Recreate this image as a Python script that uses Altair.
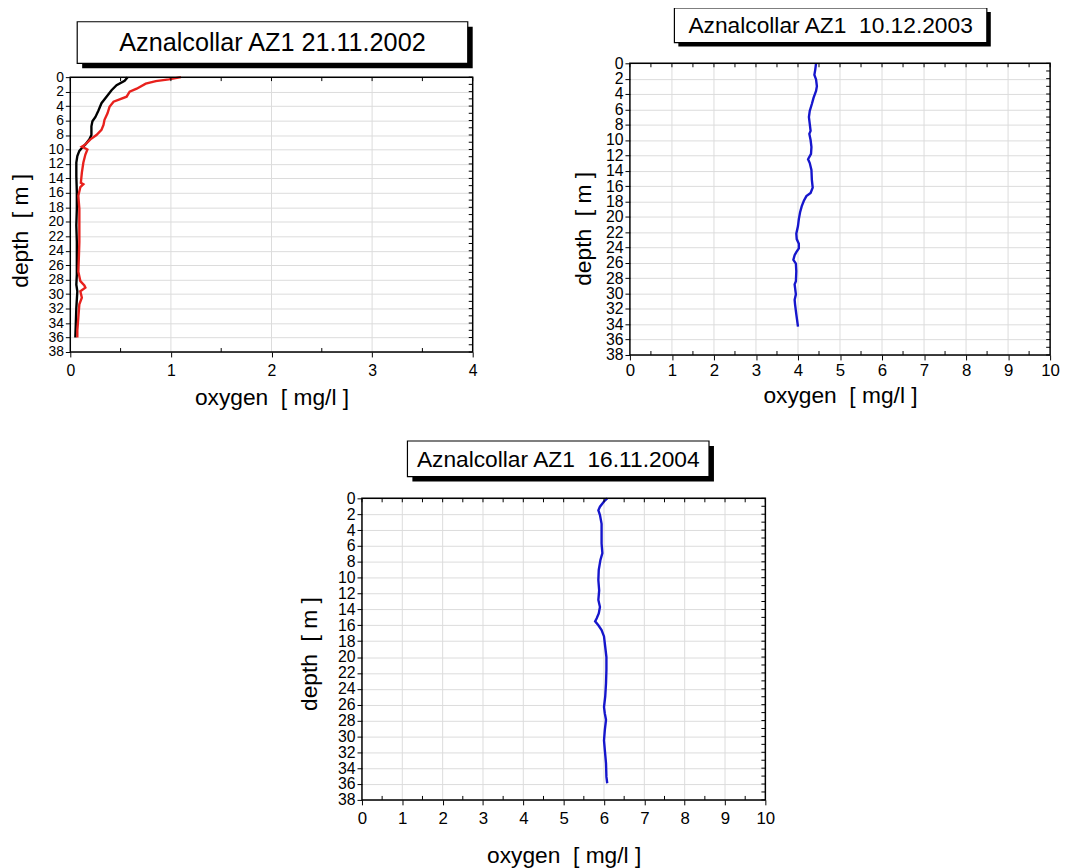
import altair as alt
import pandas as pd

FONT = "Liberation Sans"

# ---------------- data ----------------
# Panel 1: Aznalcollar AZ1 21.11.2002 (two profiles)
p1_black_depth = [0, 0.5, 1.1, 1.8, 2.7, 3.6, 4.6, 5.5, 6.1, 6.8, 7.5, 8.0, 8.6, 9.3, 9.8,
                  10.2, 10.9, 11.8, 13.7, 15.9, 18.2, 20.5, 22.8, 25.0, 27.3, 28.7, 29.6,
                  31.9, 34.1, 36.0]
p1_black_o2 = [0.57, 0.54, 0.46, 0.41, 0.36, 0.31, 0.28, 0.25, 0.22, 0.21, 0.21, 0.21, 0.19,
               0.15, 0.115, 0.09, 0.07, 0.06, 0.06, 0.065, 0.065, 0.06, 0.065, 0.065, 0.065,
               0.06, 0.07, 0.06, 0.055, 0.05]
p1_red_depth = [0, 0.3, 0.55, 0.9, 1.6, 2.0, 2.7, 3.4, 4.1, 5.0, 5.9, 6.6, 7.3, 8.0, 8.6,
                9.3, 9.6, 10.0, 10.7, 11.8, 13.2, 14.6, 14.8, 15.2, 16.4, 18.2, 20.5, 22.8,
                25.0, 26.9, 28.2, 28.8, 29.1, 29.6, 30.5, 31.4, 33.2, 35.0, 36.0]
p1_red_o2 = [1.10, 0.98, 0.85, 0.75, 0.66, 0.59, 0.56, 0.43, 0.39, 0.37, 0.34, 0.33, 0.31,
             0.26, 0.20, 0.15, 0.115, 0.17, 0.15, 0.13, 0.115, 0.105, 0.13, 0.10, 0.08, 0.09,
             0.09, 0.09, 0.085, 0.08, 0.10, 0.14, 0.15, 0.10, 0.115, 0.09, 0.08, 0.07, 0.07]

# Panel 2: Aznalcollar AZ1 10.12.2003
p2_depth = [0, 0.85, 1.5, 2.1, 3.0, 3.6, 4.5, 5.3, 6.2, 7.0, 7.9, 8.8, 9.2, 10.0, 10.9, 11.8,
            12.5, 13.0, 13.9, 15.2, 16.2, 16.9, 17.3, 17.9, 18.6, 19.4, 20.3, 21.2, 22.2, 22.9,
            23.5, 24.1, 24.6, 25.0, 25.6, 26.1, 27.1, 28.4, 28.8, 30.1, 30.8, 31.4, 32.7, 34.3]
p2_o2 = [4.43, 4.41, 4.39, 4.43, 4.45, 4.43, 4.37, 4.33, 4.28, 4.26, 4.28, 4.30, 4.27, 4.30,
         4.32, 4.31, 4.24, 4.28, 4.32, 4.33, 4.35, 4.30, 4.20, 4.14, 4.09, 4.05, 4.02, 4.00,
         3.96, 3.97, 4.02, 4.02, 3.96, 3.92, 3.89, 3.95, 3.96, 3.95, 3.92, 3.95, 3.92, 3.93,
         3.96, 4.00]

# Panel 3: Aznalcollar AZ1 16.11.2004
p3_depth = [0, 0.4, 1.05, 1.5, 2.1, 3.2, 4.4, 5.7, 6.9, 7.8, 9.0, 10.3, 11.6, 12.8, 13.7, 14.5,
            15.1, 15.5, 16.0, 16.6, 17.4, 18.7, 20.0, 21.6, 23.3, 25.0, 26.3, 27.1, 27.9, 29.2,
            30.5, 31.7, 33.4, 35.1, 35.9]
p3_o2 = [6.08, 6.00, 5.90, 5.86, 5.90, 5.94, 5.94, 5.94, 5.96, 5.91, 5.87, 5.86, 5.88, 5.86,
         5.90, 5.87, 5.82, 5.78, 5.86, 5.94, 6.00, 6.03, 6.06, 6.06, 6.05, 6.03, 6.00, 6.02,
         6.05, 6.02, 6.00, 6.02, 6.05, 6.06, 6.08]

titles = ["Aznalcollar AZ1 21.11.2002",
          "Aznalcollar AZ1\u00a0 10.12.2003",
          "Aznalcollar AZ1\u00a0 16.11.2004"]
x_title = "oxygen\u00a0 [ mg/l ]"
y_title = "depth\u00a0 [ m ]"
depth_ticks = list(range(0, 39, 2))

series_names = ["2002 a", "2002 b", "2003", "2004"]
series_colors = ["#000000", "#e8211d", "#1616cc", "#1616cc"]
GRID = "#dcdcdc"


def series_df(name, depth, o2):
    return pd.DataFrame({"series": name, "depth": depth, "o2": o2, "idx": range(len(depth))})


def panel(df, xmax, w, h, top, title, box, shadow, title_size, xlab_size, ylab_size,
          xlab_pad, xtitle_pad, ytitle_x, ytitle_y):
    xenc = alt.X("o2:Q",
                 scale=alt.Scale(domain=[0, xmax], nice=False, zero=False),
                 axis=alt.Axis(values=list(range(0, xmax + 1)), title=x_title,
                               labelFont=FONT, labelFontSize=xlab_size, labelColor="black",
                               titleFont=FONT, titleFontSize=23, titleFontWeight="normal",
                               titleColor="black", titlePadding=xtitle_pad, tickSize=5,
                               tickColor="black", domain=False, grid=False,
                               labelPadding=xlab_pad, labelFlush=False))
    yenc = alt.Y("depth:Q",
                 scale=alt.Scale(domain=[0, 38], range=[top, top + h], nice=False, zero=False),
                 axis=alt.Axis(values=depth_ticks, title=y_title,
                               labelFont=FONT, labelFontSize=ylab_size, labelColor="black",
                               titleFont=FONT, titleFontSize=23, titleFontWeight="normal",
                               titleColor="black", titleX=ytitle_x, titleY=top + ytitle_y,
                               tickSize=5, tickColor="black", domain=False, grid=True,
                               gridColor=GRID, labelPadding=2, labelFlush=False,
                               labelOverlap=False))

    vgrid = alt.Chart(pd.DataFrame({"o2": list(range(1, xmax))})).mark_rule(
        color=GRID, strokeWidth=1).encode(x=xenc, y=alt.value(top), y2=alt.value(top + h))

    lines = alt.Chart(df).mark_line(strokeWidth=2.4).encode(
        x=xenc, y=yenc,
        color=alt.Color("series:N", scale=alt.Scale(domain=series_names, range=series_colors),
                        legend=None),
        order=alt.Order("idx:Q"),
    )

    xt = pd.DataFrame({"o2": [i * 0.5 for i in range(2 * xmax + 1)]})
    xt_minor = pd.DataFrame({"o2": [i * 0.5 for i in range(1, 2 * xmax, 2)]})
    yt = pd.DataFrame({"depth": list(range(0, 39))})
    top_ticks = alt.Chart(xt).mark_rule(color="black", strokeWidth=1).encode(
        x=xenc, y=alt.value(top), y2=alt.value(top + 4))
    bot_ticks = alt.Chart(xt_minor).mark_rule(color="black", strokeWidth=1).encode(
        x=xenc, y=alt.value(top + h), y2=alt.value(top + h - 4))
    right_ticks = alt.Chart(yt).mark_rule(color="black", strokeWidth=1).encode(
        y=yenc, x=alt.value(w), x2=alt.value(w - 4))

    one = pd.DataFrame({"t": [title]})
    frame = alt.Chart(one).mark_rect(fill="transparent", stroke="black", strokeWidth=1.5).encode(
        x=alt.value(0), x2=alt.value(w), y=alt.value(top), y2=alt.value(top + h))

    bx0, bx1, by0, by1 = box
    by0 += top
    by1 += top
    sh = alt.Chart(one).mark_rect(color="black").encode(
        x=alt.value(bx0 + shadow), x2=alt.value(bx1 + shadow),
        y=alt.value(by0 + shadow), y2=alt.value(by1 + shadow))
    bx = alt.Chart(one).mark_rect(fill="white", stroke="black", strokeWidth=1.2).encode(
        x=alt.value(bx0), x2=alt.value(bx1), y=alt.value(by0), y2=alt.value(by1))
    tx = alt.Chart(one).mark_text(font=FONT, fontSize=title_size, color="black",
                                  align="center", baseline="middle").encode(
        x=alt.value((bx0 + bx1) / 2), y=alt.value((by0 + by1) / 2 + 1), text="t:N")

    return alt.layer(vgrid, lines, top_ticks, bot_ticks, right_ticks, frame, sh, bx, tx).properties(
        width=w, height=top + h, view=alt.ViewConfig(stroke="transparent"))


df1 = pd.concat([series_df("2002 a", p1_black_depth, p1_black_o2),
                 series_df("2002 b", p1_red_depth, p1_red_o2)])
df2 = series_df("2003", p2_depth, p2_o2)
df3 = series_df("2004", p3_depth, p3_o2)

c1 = panel(df1, 4, 407, 278, 14, titles[0], (7, 402, -56, -14), 5, 25.5, 16, 14,
           6, 8, -38, 155)
c2 = panel(df2, 10, 425, 295, 0, titles[1], (45, 361, -56, -21), 4, 23, 17, 16,
           3, 6, -35, 167)
c3 = panel(df3, 10, 408, 305, 0, titles[2], (46, 351, -58, -22), 5, 23, 17, 16,
           6, 18, -41, 157)

spacer = alt.Chart(pd.DataFrame({"t": [""]})).mark_rect(opacity=0).encode(
    x=alt.value(0), x2=alt.value(187), y=alt.value(0), y2=alt.value(10)
).properties(width=187, height=10, view=alt.ViewConfig(stroke="transparent"))

row1 = alt.hconcat(c1, c2, spacing=95)
row2 = alt.hconcat(spacer, c3, spacing=42)

chart = alt.vconcat(row1, row2, spacing=29).properties(
    padding={"left": 1, "top": -7, "right": 0, "bottom": 0}
).configure(background="white")

chart.save("out.html", embed_options={"renderer": "svg", "actions": False})
